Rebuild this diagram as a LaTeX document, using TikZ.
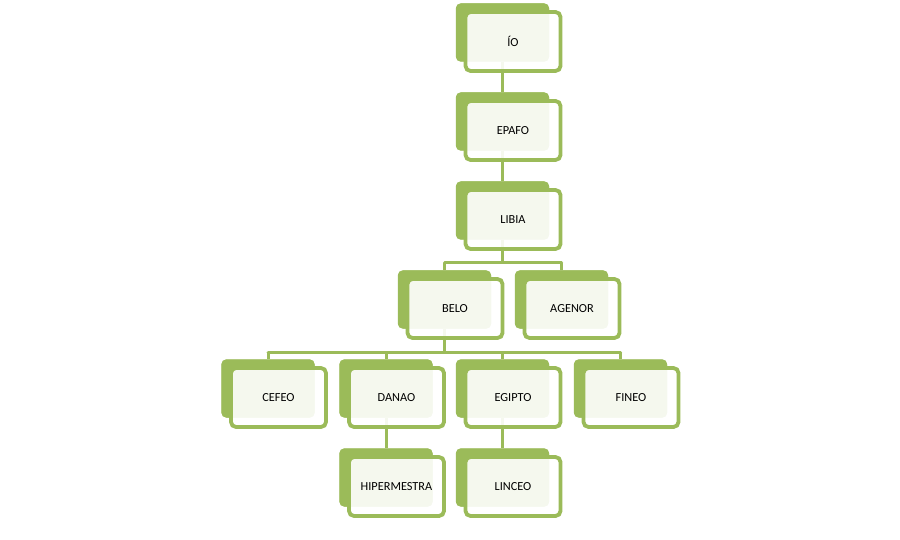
\documentclass[tikz,border=0pt]{standalone}
\usepackage{fontspec}
\setmainfont{Carlito}
\definecolor{olive}{HTML}{9BBB59}
\tikzset{
  backbox/.style={fill=olive, rounded corners=5pt, minimum width=93pt, minimum height=58pt, inner sep=0pt},
  frontbox/.style={draw=olive, line width=3.8pt, fill=white, fill opacity=0.9, text opacity=1, rounded corners=5pt, minimum width=95pt, minimum height=59pt, inner sep=0pt, font=\fontsize{12.3}{14}\selectfont, text=black},
  conn/.style={draw=olive, line width=3pt}
}
\begin{document}
\begin{tikzpicture}[x=1pt,y=-1pt]
\useasboundingbox (0,0) rectangle (900,540);
% back boxes
\node[backbox] (iob) at (502.5,32.5) {};
\node[backbox] (epafob) at (502.5,121.5) {};
\node[backbox] (libiab) at (502.5,210.5) {};
\node[backbox] (belob) at (444.5,299.5) {};
\node[backbox] (agenorb) at (561.5,299.5) {};
\node[backbox] (cefeob) at (268,388.5) {};
\node[backbox] (danaob) at (386,388.5) {};
\node[backbox] (egiptob) at (502.5,388.5) {};
\node[backbox] (fineob) at (620.5,388.5) {};
\node[backbox] (hiperb) at (386,477.5) {};
\node[backbox] (linceob) at (502.5,477.5) {};
% connectors
\coordinate (h1) at (0,263);
\coordinate (h2) at (0,352);
\draw[conn] (iob) -- (epafob.north);
\draw[conn] (epafob) -- (libiab.north);
\draw[conn] (libiab) -- (libiab |- h1);
\draw[conn,line cap=round] (belob |- h1) -- (agenorb |- h1);
\draw[conn] (belob |- h1) -- (belob.north);
\draw[conn] (agenorb |- h1) -- (agenorb.north);
\draw[conn] (belob) -- (belob |- h2);
\draw[conn,line cap=round] (cefeob |- h2) -- (fineob |- h2);
\draw[conn] (cefeob |- h2) -- (cefeob.north);
\draw[conn] (danaob |- h2) -- (danaob.north);
\draw[conn] (egiptob |- h2) -- (egiptob.north);
\draw[conn] (fineob |- h2) -- (fineob.north);
\draw[conn] (danaob) -- (hiperb.north);
\draw[conn] (egiptob) -- (linceob.north);
% redraw back boxes over connector ends
\foreach \n in {iob,epafob,libiab,belob,agenorb,cefeob,danaob,egiptob,fineob,hiperb,linceob}{
  \fill[olive, rounded corners=5pt] (\n.south west) rectangle (\n.north east);
}
% front boxes
\node[frontbox] (io) at (513,41.5) {ÍO};
\node[frontbox] (epafo) at (513,130.5) {EPAFO};
\node[frontbox] (libia) at (513,219.5) {LIBIA};
\node[frontbox] (belo) at (455,308.5) {BELO};
\node[frontbox] (agenor) at (572,308.5) {AGENOR};
\node[frontbox] (cefeo) at (278.5,397.5) {CEFEO};
\node[frontbox] (danao) at (396.5,397.5) {DANAO};
\node[frontbox] (egipto) at (513,397.5) {EGIPTO};
\node[frontbox] (fineo) at (631,397.5) {FINEO};
\node[frontbox] (hiper) at (396.5,486.5) {HIPERMESTRA};
\node[frontbox] (linceo) at (513,486.5) {LINCEO};
\end{tikzpicture}
\end{document}
